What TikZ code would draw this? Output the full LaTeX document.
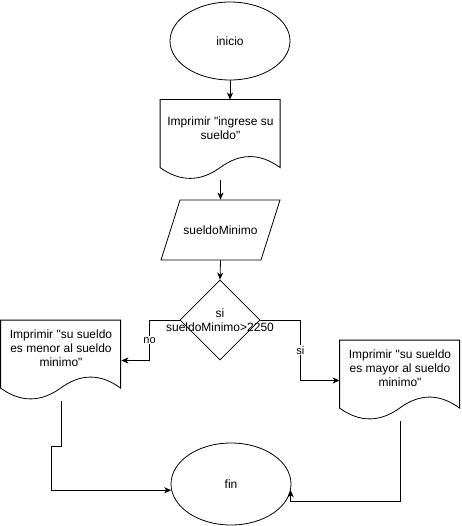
\documentclass[tikz,border=0pt]{standalone}
\usepackage{fontspec}
\setmainfont{Liberation Sans}[Ligatures=TeXOff]
\usetikzlibrary{shapes.geometric,arrows.meta}
% outline of a print box: flat top, wavy bottom, 120 x 80
\newcommand{\docoutline}[1]{%
  \draw (#1.north west) -- ([shift={(120,0)}]#1.north west) -- ([shift={(120,68)}]#1.north west)
    .. controls ([shift={(100,53.3)}]#1.north west) and ([shift={(80,53.3)}]#1.north west) .. ([shift={(60,68)}]#1.north west)
    .. controls ([shift={(40,82.4)}]#1.north west) and ([shift={(20,82.4)}]#1.north west) .. ([shift={(0,68)}]#1.north west)
    -- cycle;}
% outline of an input box: slanted sides, 100 wide plus 19 slant, 60 high
\newcommand{\inoutline}[1]{%
  \draw ([shift={(-40.5,-30)}]#1.center) -- ([shift={(59.5,-30)}]#1.center)
    -- ([shift={(40.5,30)}]#1.center) -- ([shift={(-59.5,30)}]#1.center) -- cycle;}
\begin{document}
\begin{tikzpicture}[x=1pt,y=-1pt,>={Stealth[length=7pt,width=6pt,inset=2pt]},line width=0.8pt,
    every node/.style={font=\fontsize{12}{14}\selectfont},
    terminal/.style={ellipse,draw,minimum width=120pt,minimum height=78pt,inner sep=0pt},
    printbox/.style={minimum width=120pt,minimum height=56pt,inner sep=0pt,align=center},
    inbox/.style={minimum width=100pt,minimum height=60pt,inner sep=0pt},
    branch/.style={font=\fontsize{11}{13}\selectfont,fill=white,inner sep=1pt}]
  \useasboundingbox (0,0) rectangle (461,526);
  \node[terminal] (inicio) at (230,41) {inicio};
  \node[printbox] (imp1) at (220.5,128) {Imprimir "ingrese su\\sueldo"};
  \docoutline{imp1}
  \node[inbox] (leer) at (220.5,230) {sueldoMinimo};
  \inoutline{leer}
  \node[diamond,draw,minimum width=80pt,minimum height=80pt,inner sep=0pt] (cond) at (220,320) {};
  \node[align=center] (condtxt) at (cond) {si\\sueldoMinimo>2250};
  \node[printbox] (imp2) at (61,348.5) {Imprimir "su sueldo\\es menor al sueldo\\minimo"};
  \docoutline{imp2}
  \node[printbox] (imp3) at (400,368.5) {Imprimir "su sueldo\\es mayor al sueldo\\minimo"};
  \docoutline{imp3}
  \node[terminal,minimum height=82pt] (fin) at (231,484) {fin};
  % connectors
  \draw[->] (inicio.south) -- (inicio.south |- imp1.north);
  \draw[->] ([yshift=-24pt]imp1.south) -- (leer.north);
  \draw[->] (leer.south) -- (cond.north);
  \draw[->] (cond.west) -- ++(-30,0) |- node[branch,pos=0.25] {no} ([yshift=-12pt]imp2.east);
  \draw[->] (cond.east) -- ++(40,0) |- node[branch,pos=0.25] {si} ([yshift=-12pt]imp3.west);
  \draw[->] ([yshift=-24pt]imp2.south) -- ++(0,45) -- ++(-10,0) |- (fin.186);
  \draw[->] ([yshift=-24pt]imp3.south) -- ++(0,80) -| (fin.354);
\end{tikzpicture}
\end{document}
